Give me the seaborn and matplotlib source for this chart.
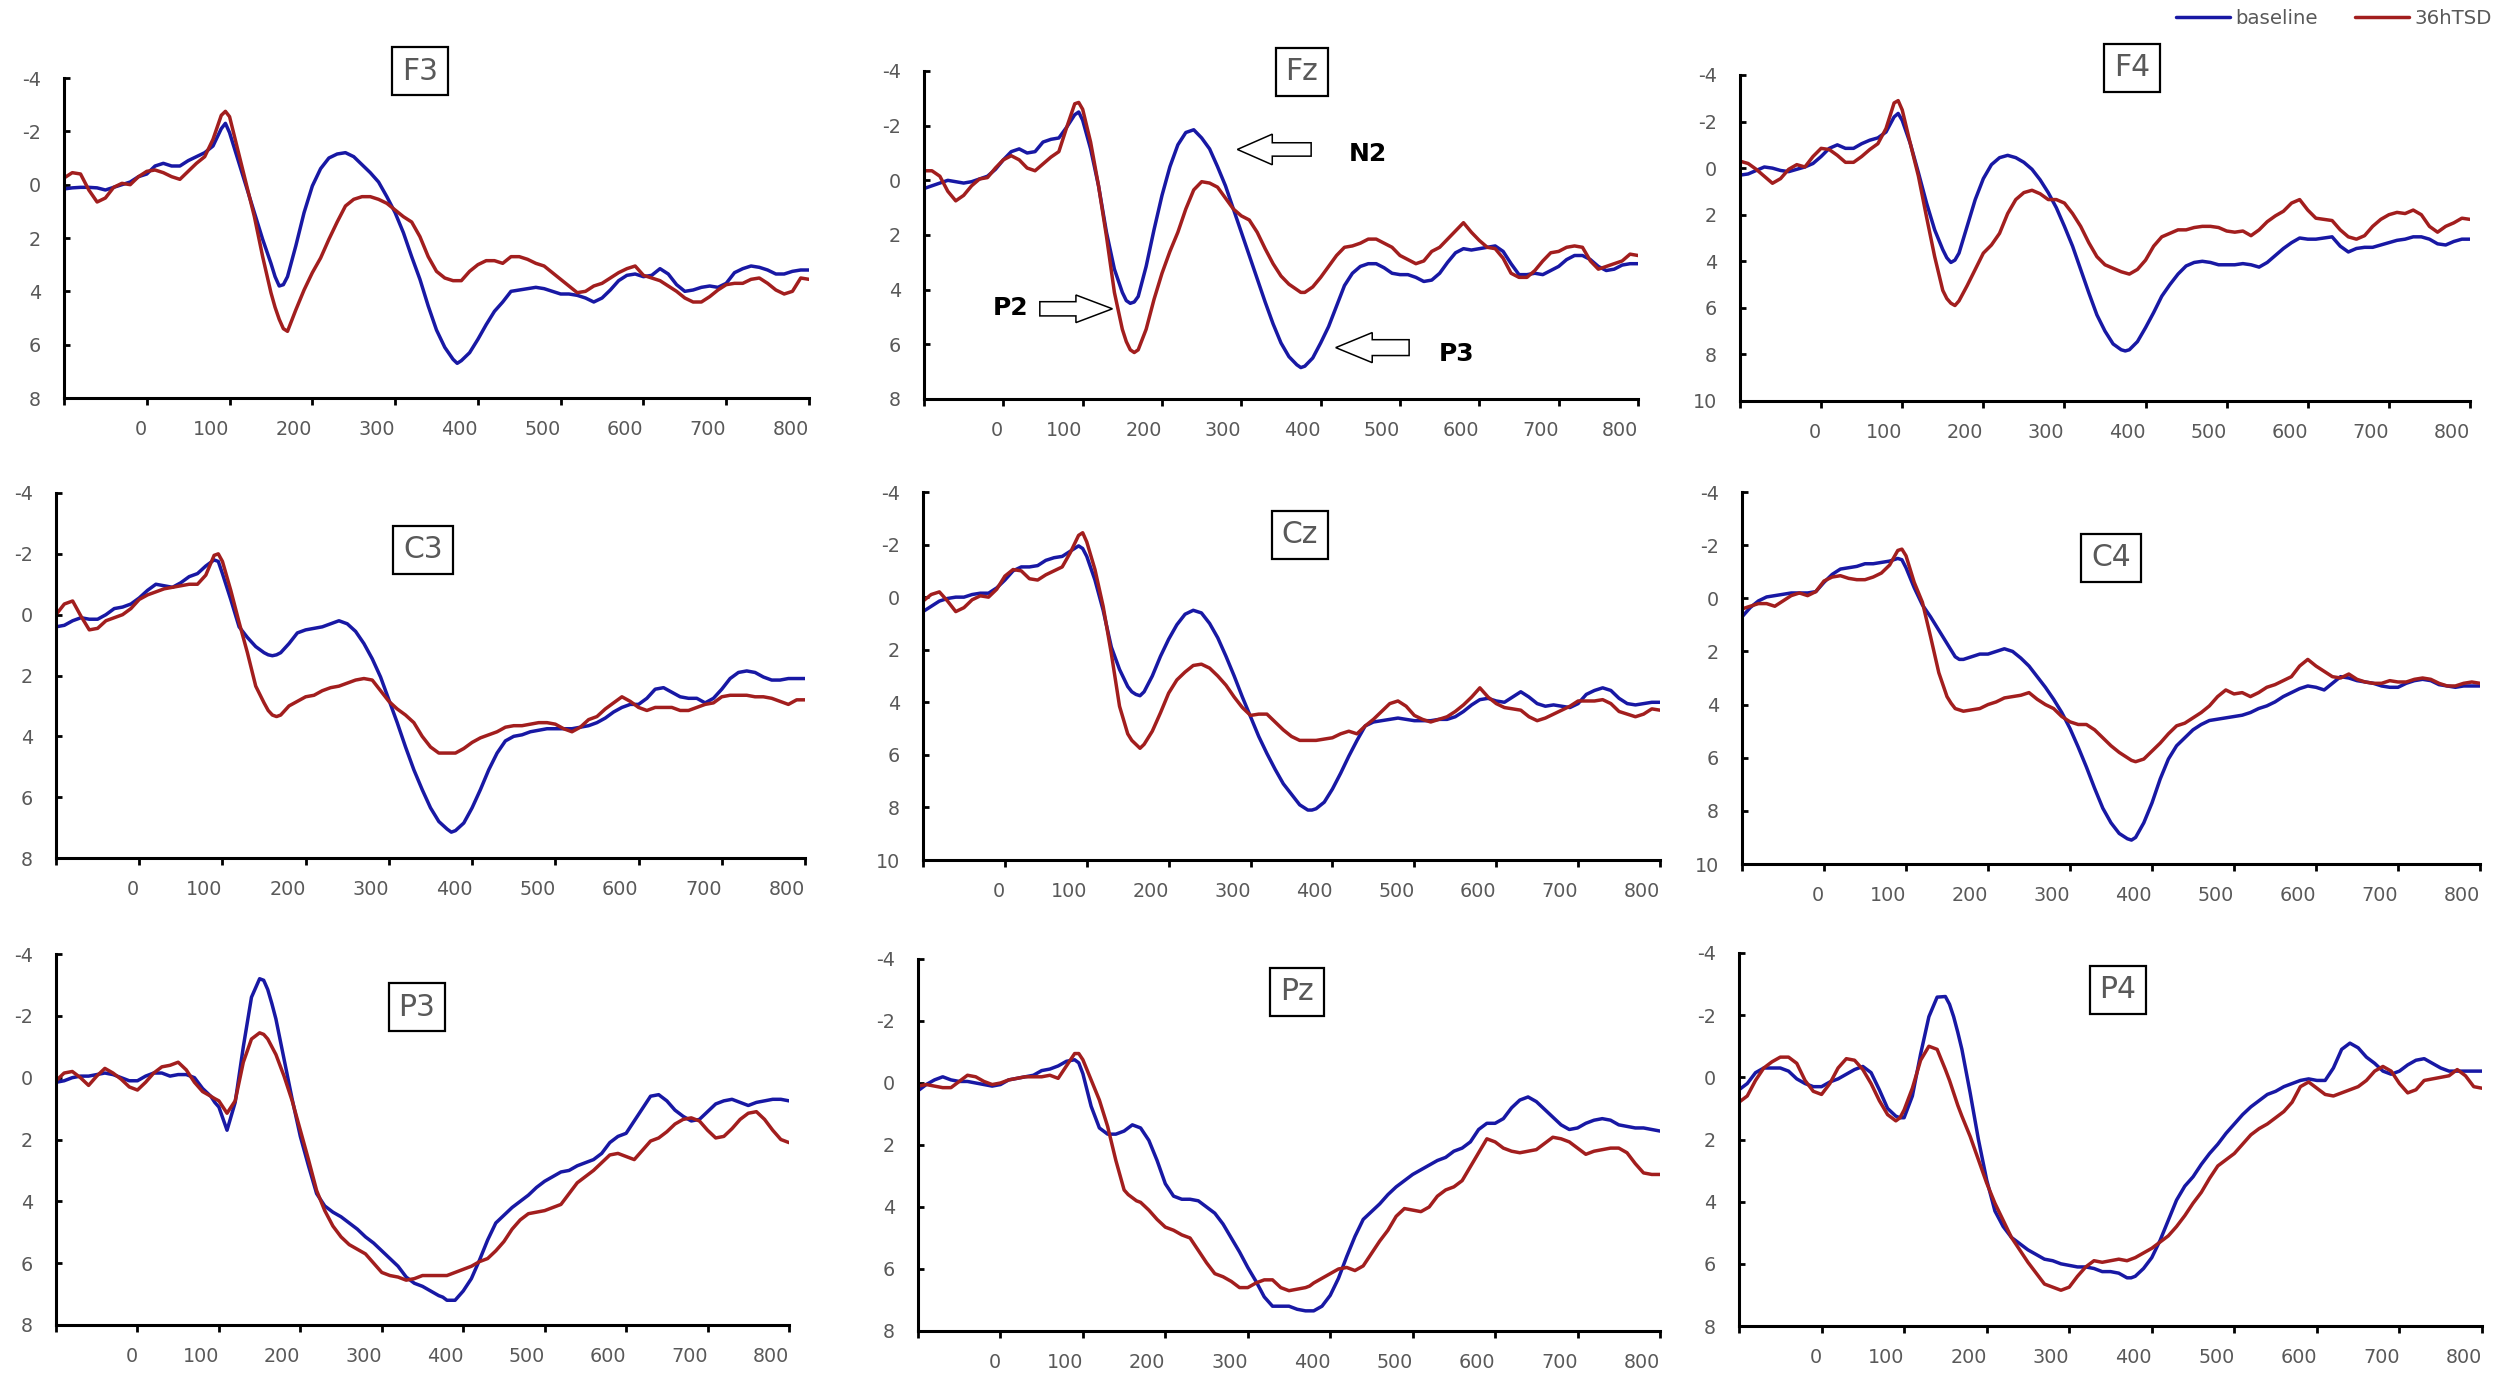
import matplotlib
matplotlib.use("Agg")
import matplotlib.pyplot as plt
import seaborn as sns
import pandas as pd
from matplotlib.patches import FancyArrow

# ---------------- data (ERP amplitude, µV; time in ms) ----------------
TIME = sorted(list(range(-100, 801, 10)) + [95, 155, 165, 375])

F3_BASE = [0.16,0.12,0.1,0.1,0.12,0.2,0.1,0.0,-0.1,-0.3,-0.4,-0.7,-0.8,-0.7,-0.7,-0.9,-1.05,-1.2,-1.45,-2.1,
           -2.3,
           -1.95,-0.95,0.05,1.05,2.05,2.95,
           3.45,3.8,3.75,
           3.45,2.3,1.05,0.05,-0.6,-1.0,-1.15,-1.2,-1.05,-0.75,-0.45,-0.1,0.45,1.05,1.8,2.7,3.55,4.55,5.45,6.1,6.55,
           6.7,
           6.6,6.3,5.8,5.25,4.75,4.4,4.0,3.95,3.9,3.85,3.9,4.0,4.1,4.1,4.15,4.25,4.4,4.25,3.95,3.6,3.4,3.35,3.45,3.4,
           3.15,3.35,3.75,4.0,3.95,3.85,3.8,3.85,3.7,3.3,3.15,3.05,3.1,3.2,3.35,3.35,3.25,3.2,3.2]
F3_TSD = [-0.25,-0.45,-0.4,0.2,0.65,0.5,0.1,-0.05,0.0,-0.3,-0.5,-0.55,-0.45,-0.3,-0.2,-0.5,-0.8,-1.05,-1.7,-2.6,
          -2.75,
          -2.55,-1.3,-0.05,1.2,2.7,4.05,
          4.6,5.05,5.4,
          5.5,4.7,3.95,3.3,2.75,2.05,1.4,0.8,0.55,0.45,0.45,0.55,0.7,0.95,1.2,1.4,1.95,2.7,3.25,3.5,3.6,
          3.6,
          3.6,3.25,3.0,2.85,2.85,2.95,2.7,2.7,2.8,2.95,3.05,3.3,3.55,3.8,4.05,4.0,3.8,3.7,3.5,3.3,3.15,3.05,3.4,3.5,
          3.6,3.8,4.0,4.25,4.4,4.4,4.2,3.95,3.75,3.7,3.7,3.55,3.5,3.7,3.95,4.1,4.0,3.5,3.55]

FZ_BASE = [0.3,0.2,0.1,0.0,0.05,0.1,0.05,-0.05,-0.15,-0.4,-0.75,-1.05,-1.15,-1.0,-1.05,-1.4,-1.5,-1.55,-1.95,-2.4,
           -2.5,
           -2.2,-1.15,0.2,1.9,3.25,4.1,
           4.4,4.5,4.45,
           4.25,3.15,1.8,0.55,-0.5,-1.3,-1.75,-1.85,-1.55,-1.15,-0.5,0.2,1.05,1.9,2.75,3.6,4.45,5.25,5.95,6.45,6.75,
           6.85,
           6.8,6.5,5.95,5.35,4.6,3.85,3.4,3.15,3.05,3.05,3.2,3.4,3.45,3.45,3.55,3.7,3.65,3.4,3.0,2.65,
           2.5,2.55,2.5,2.45,2.4,2.6,3.05,3.45,3.45,3.4,3.45,3.3,3.15,2.9,2.75,2.75,2.9,3.15,3.3,3.25,3.1,3.05,3.05]
FZ_TSD = [-0.35,-0.35,-0.15,0.4,0.75,0.55,0.2,-0.05,-0.1,-0.45,-0.75,-0.9,-0.75,-0.45,-0.35,-0.6,-0.85,-1.05,-1.95,-2.8,
          -2.85,
          -2.6,-1.4,0.2,2.05,4.1,5.45,
          5.9,6.2,6.3,
          6.2,5.45,4.35,3.4,2.6,1.9,1.05,0.35,0.05,0.1,0.25,0.65,1.05,1.3,1.45,1.9,2.5,3.05,3.5,3.8,4.0,
          4.1,
          4.1,3.9,3.55,3.15,2.75,2.45,2.4,2.3,2.15,2.15,2.3,2.45,2.75,2.9,3.05,2.95,2.6,2.45,2.15,1.85,
          1.55,1.9,2.2,2.45,2.5,2.85,3.4,3.55,3.55,3.3,2.95,2.65,2.6,2.45,2.4,2.45,2.95,3.25,3.15,3.05,2.95,2.7,2.75]

F4_BASE = [0.3,0.25,0.1,-0.05,0.0,0.1,0.15,0.05,-0.05,-0.2,-0.5,-0.85,-1.0,-0.85,-0.85,-1.05,-1.2,-1.3,-1.55,-2.2,
           -2.35,
           -2.05,-1.05,0.2,1.5,2.65,3.5,
           3.85,4.05,3.95,
           3.65,2.5,1.35,0.45,-0.15,-0.45,-0.55,-0.45,-0.25,0.05,0.5,1.05,1.7,2.5,3.35,4.35,5.35,6.3,7.0,7.55,7.8,
           7.85,
           7.8,7.45,6.85,6.2,5.5,5.0,4.55,4.2,4.05,4.0,4.05,4.15,4.15,4.15,4.1,4.15,4.25,4.05,3.75,3.45,
           3.2,3.0,3.05,3.05,3.0,2.95,3.35,3.6,3.45,3.4,3.4,3.3,3.2,3.1,3.05,2.95,2.95,3.05,3.25,3.3,3.15,3.05,3.05]
F4_TSD = [-0.3,-0.2,0.05,0.35,0.65,0.45,0.05,-0.15,-0.05,-0.5,-0.85,-0.8,-0.55,-0.25,-0.25,-0.5,-0.8,-1.05,-1.7,-2.8,
          -2.9,
          -2.5,-1.05,0.35,2.1,3.8,5.25,
          5.6,5.8,5.9,
          5.7,5.05,4.35,3.65,3.3,2.8,1.95,1.35,1.05,0.95,1.1,1.35,1.35,1.5,1.95,2.5,3.2,3.8,4.15,4.3,4.45,
          4.5,
          4.55,4.35,3.95,3.35,2.95,2.8,2.65,2.65,2.55,2.5,2.5,2.55,2.7,2.75,2.7,2.9,2.65,2.3,2.05,1.85,
          1.5,1.35,1.8,2.15,2.2,2.25,2.65,2.95,3.05,2.9,2.5,2.2,2.0,1.9,1.95,1.8,2.0,2.5,2.75,2.5,2.35,2.15,2.2]

C3_BASE = [0.4,0.35,0.2,0.1,0.15,0.15,0.0,-0.2,-0.25,-0.35,-0.55,-0.8,-1.0,-0.95,-0.9,-1.05,-1.25,-1.35,-1.6,-1.8,
           -1.75,
           -1.35,-0.5,0.4,0.75,1.05,1.25,
           1.32,1.35,1.32,
           1.25,0.95,0.6,0.5,0.45,0.4,0.3,0.2,0.3,0.55,0.95,1.45,2.05,2.8,3.55,4.35,5.1,5.75,6.35,6.8,7.05,
           7.15,
           7.1,6.85,6.35,5.75,5.1,4.55,4.15,4.0,3.95,3.85,3.8,3.75,3.75,3.75,3.75,3.7,3.65,3.55,3.4,3.2,
           3.05,2.95,2.95,2.75,2.45,2.4,2.55,2.7,2.75,2.75,2.9,2.75,2.45,2.1,1.9,1.85,1.9,2.05,2.15,2.15,2.1,2.1,2.1]
C3_TSD = [0.0,-0.35,-0.45,0.05,0.5,0.45,0.2,0.1,0.0,-0.2,-0.5,-0.65,-0.75,-0.85,-0.9,-0.95,-1.0,-1.0,-1.3,-1.95,
          -2.0,
          -1.75,-0.8,0.25,1.25,2.35,2.9,
          3.15,3.3,3.35,
          3.3,3.0,2.85,2.7,2.65,2.5,2.4,2.35,2.25,2.15,2.1,2.15,2.5,2.85,3.1,3.3,3.55,4.0,4.35,4.55,4.55,
          4.55,
          4.55,4.4,4.2,4.05,3.95,3.85,3.7,3.65,3.65,3.6,3.55,3.55,3.6,3.75,3.85,3.7,3.45,3.35,3.1,2.9,
          2.7,2.85,3.05,3.15,3.05,3.05,3.05,3.15,3.15,3.05,2.95,2.9,2.7,2.65,2.65,2.65,2.7,2.7,2.75,2.85,2.95,2.8,2.8]

CZ_BASE = [0.55,0.35,0.15,0.05,0.0,0.0,-0.1,-0.15,-0.15,-0.35,-0.65,-1.0,-1.15,-1.15,-1.2,-1.4,-1.5,-1.55,-1.75,-1.95,
           -1.85,
           -1.55,-0.65,0.5,1.9,2.75,3.4,
           3.6,3.7,3.75,
           3.6,3.0,2.25,1.6,1.05,0.65,0.5,0.6,1.0,1.55,2.25,3.0,3.8,4.55,5.3,5.95,6.55,7.1,7.5,7.9,8.1,
           8.1,
           8.05,7.8,7.3,6.7,6.05,5.45,4.9,4.75,4.7,4.65,4.6,4.65,4.7,4.7,4.7,4.65,4.65,4.55,4.35,4.1,
           3.9,3.85,3.95,4.0,3.8,3.6,3.8,4.05,4.15,4.1,4.15,4.2,4.05,3.7,3.55,3.45,3.55,3.85,4.05,4.1,4.05,4.0,4.0]
CZ_TSD = [0.15,-0.1,-0.2,0.15,0.55,0.4,0.1,-0.05,0.0,-0.3,-0.8,-1.05,-1.0,-0.7,-0.65,-0.85,-1.0,-1.15,-1.7,-2.35,
          -2.45,
          -2.1,-1.05,0.35,2.15,4.15,5.2,
          5.45,5.6,5.75,
          5.6,5.1,4.4,3.65,3.15,2.85,2.6,2.55,2.7,3.0,3.35,3.8,4.2,4.5,4.45,4.45,4.75,5.05,5.3,5.45,5.45,
          5.45,
          5.45,5.4,5.35,5.2,5.1,5.2,4.9,4.65,4.35,4.05,3.95,4.15,4.5,4.65,4.75,4.65,4.55,4.35,4.1,3.8,
          3.45,3.8,4.05,4.2,4.25,4.3,4.55,4.7,4.6,4.45,4.3,4.15,3.95,3.95,3.95,3.9,4.05,4.35,4.45,4.55,4.45,4.25,4.3]

C4_BASE = [0.7,0.35,0.1,-0.05,-0.1,-0.15,-0.2,-0.2,-0.2,-0.25,-0.6,-0.9,-1.1,-1.15,-1.2,-1.3,-1.3,-1.35,-1.4,-1.5,
           -1.45,
           -1.15,-0.4,0.25,0.7,1.2,1.7,
           1.95,2.2,2.3,
           2.3,2.2,2.1,2.1,2.0,1.9,2.0,2.25,2.55,2.95,3.35,3.8,4.3,4.9,5.6,6.35,7.15,7.9,8.45,8.85,9.05,
           9.1,
           9.0,8.45,7.7,6.8,6.05,5.55,5.25,4.95,4.75,4.6,4.55,4.5,4.45,4.4,4.3,4.15,4.05,3.9,3.7,3.55,
           3.4,3.3,3.35,3.45,3.2,2.95,3.0,3.1,3.15,3.2,3.3,3.35,3.35,3.2,3.1,3.05,3.1,3.25,3.3,3.35,3.3,3.3,3.3]
C4_TSD = [0.4,0.3,0.2,0.2,0.3,0.1,-0.1,-0.2,-0.1,-0.25,-0.65,-0.8,-0.85,-0.75,-0.7,-0.7,-0.8,-0.95,-1.25,-1.8,
          -1.85,
          -1.6,-0.6,0.15,1.45,2.8,3.7,
          3.95,4.15,4.2,
          4.25,4.2,4.15,4.0,3.9,3.75,3.7,3.65,3.55,3.8,4.0,4.15,4.45,4.65,4.75,4.75,4.95,5.25,5.55,5.8,6.0,
          6.1,
          6.15,6.05,5.75,5.45,5.1,4.8,4.7,4.5,4.3,4.05,3.7,3.45,3.6,3.55,3.7,3.55,3.35,3.25,3.1,2.95,
          2.55,2.3,2.55,2.75,2.95,3.0,2.85,3.05,3.15,3.2,3.2,3.1,3.15,3.15,3.05,3.0,3.05,3.2,3.3,3.3,3.2,3.15,3.2]

P3_BASE = [0.15,0.1,0.0,-0.05,-0.05,-0.1,-0.15,-0.1,0.0,0.1,0.1,-0.05,-0.15,-0.15,-0.05,-0.1,-0.1,0.0,0.35,0.6,
           0.8,
           0.95,1.7,0.8,-1.0,-2.6,-3.2,
           -3.15,-2.85,-2.4,
           -1.9,-0.6,0.7,1.9,2.85,3.75,4.15,4.35,4.5,4.7,4.9,5.15,5.35,5.6,5.85,6.1,6.45,6.65,6.75,6.9,7.05,
           7.1,
           7.2,7.2,6.9,6.5,5.9,5.25,4.7,4.45,4.2,4.0,3.8,3.55,3.35,3.2,3.05,3.0,2.85,2.75,2.65,2.45,
           2.1,1.9,1.8,1.4,1.0,0.6,0.55,0.75,1.05,1.25,1.4,1.35,1.1,0.85,0.75,0.7,0.8,0.9,0.8,0.75,0.7,0.7,0.75]
P3_TSD = [0.1,-0.15,-0.2,0.0,0.25,-0.05,-0.3,-0.15,0.05,0.3,0.4,0.15,-0.15,-0.35,-0.4,-0.5,-0.25,0.15,0.45,0.6,
          0.68,
          0.75,1.15,0.75,-0.5,-1.25,-1.45,
          -1.4,-1.25,-1.0,
          -0.75,-0.05,0.75,1.7,2.65,3.65,4.3,4.8,5.15,5.4,5.55,5.7,6.0,6.3,6.4,6.45,6.55,6.5,6.4,6.4,6.4,
          6.4,
          6.4,6.3,6.2,6.1,5.95,5.85,5.6,5.3,4.9,4.6,4.4,4.35,4.3,4.2,4.1,3.75,3.4,3.2,3.0,2.75,
          2.5,2.45,2.55,2.65,2.35,2.05,1.95,1.75,1.5,1.35,1.3,1.4,1.7,1.95,1.9,1.65,1.35,1.15,1.1,1.35,1.7,2.0,2.1]

PZ_BASE = [0.25,0.05,-0.1,-0.2,-0.1,-0.05,-0.05,0.0,0.05,0.1,0.05,-0.1,-0.15,-0.2,-0.25,-0.4,-0.45,-0.55,-0.7,-0.75,
           -0.65,
           -0.3,0.75,1.45,1.65,1.65,1.55,
           1.45,1.35,1.4,
           1.45,1.85,2.5,3.25,3.65,3.75,3.75,3.8,4.0,4.2,4.55,5.0,5.45,5.95,6.4,6.9,7.2,7.2,7.2,7.3,7.35,
           7.35,
           7.35,7.2,6.85,6.3,5.6,4.95,4.4,4.15,3.9,3.6,3.35,3.15,2.95,2.8,2.65,2.5,2.4,2.2,2.1,1.9,
           1.5,1.3,1.3,1.15,0.8,0.55,0.45,0.6,0.85,1.1,1.35,1.5,1.45,1.3,1.2,1.15,1.2,1.35,1.4,1.45,1.45,1.5,1.55]
PZ_TSD = [0.1,0.05,0.1,0.15,0.15,-0.05,-0.25,-0.2,-0.05,0.05,0.0,-0.1,-0.15,-0.2,-0.2,-0.2,-0.25,-0.15,-0.55,-0.95,
          -0.95,
          -0.75,-0.1,0.55,1.4,2.5,3.45,
          3.6,3.7,3.8,
          3.85,4.1,4.4,4.65,4.75,4.9,5.0,5.4,5.8,6.15,6.25,6.4,6.6,6.6,6.45,6.35,6.35,6.6,6.7,6.65,6.6,
          6.55,
          6.45,6.3,6.15,6.0,5.95,6.05,5.9,5.5,5.1,4.75,4.3,4.05,4.1,4.15,4.0,3.65,3.45,3.35,3.15,2.7,
          2.25,1.8,1.9,2.1,2.2,2.25,2.2,2.15,1.95,1.75,1.8,1.9,2.1,2.3,2.2,2.15,2.1,2.1,2.25,2.6,2.9,2.95,2.95]

P4_BASE = [0.4,0.2,-0.15,-0.3,-0.3,-0.3,-0.2,0.05,0.2,0.3,0.3,0.15,0.05,-0.1,-0.25,-0.35,-0.15,0.4,1.0,1.25,
           1.3,
           1.3,0.6,-0.75,-1.95,-2.58,-2.6,
           -2.35,-1.95,-1.45,
           -0.9,0.5,2.0,3.3,4.3,4.8,5.15,5.35,5.55,5.7,5.85,5.9,6.0,6.05,6.1,6.1,6.15,6.25,6.25,6.3,6.45,
           6.45,
           6.4,6.15,5.8,5.25,4.6,3.95,3.5,3.2,2.8,2.45,2.15,1.8,1.5,1.2,0.95,0.75,0.55,0.45,0.3,0.2,
           0.1,0.05,0.1,0.1,-0.3,-0.9,-1.1,-0.95,-0.65,-0.45,-0.2,-0.1,-0.2,-0.4,-0.55,-0.6,-0.45,-0.3,-0.2,-0.2,-0.2,-0.2,-0.2]
P4_TSD = [0.8,0.6,0.1,-0.3,-0.5,-0.65,-0.65,-0.45,0.1,0.45,0.55,0.2,-0.3,-0.6,-0.55,-0.25,0.2,0.75,1.2,1.4,
          1.3,
          1.05,0.35,-0.55,-1.0,-0.9,-0.25,
          0.1,0.5,0.9,
          1.25,1.9,2.65,3.4,4.05,4.6,5.15,5.55,5.95,6.3,6.65,6.75,6.85,6.75,6.4,6.1,5.9,5.95,5.9,5.85,5.9,
          5.85,
          5.8,5.65,5.5,5.3,5.1,4.8,4.45,4.05,3.7,3.25,2.85,2.65,2.45,2.15,1.85,1.65,1.5,1.3,1.1,0.8,
          0.3,0.15,0.35,0.55,0.6,0.5,0.4,0.3,0.1,-0.2,-0.35,-0.2,0.2,0.5,0.4,0.1,0.05,0.0,-0.05,-0.25,-0.05,0.3,0.35]

ELECTRODES = ["F3", "Fz", "F4", "C3", "Cz", "C4", "P3", "Pz", "P4"]
BASELINES = [F3_BASE, FZ_BASE, F4_BASE, C3_BASE, CZ_BASE, C4_BASE, P3_BASE, PZ_BASE, P4_BASE]
TSDS = [F3_TSD, FZ_TSD, F4_TSD, C3_TSD, CZ_TSD, C4_TSD, P3_TSD, PZ_TSD, P4_TSD]
Y_BOTTOM = [8, 8, 10, 8, 10, 10, 8, 8, 8]
X_TICKS = list(range(-100, 801, 100))
X_LABELS = [""] + [str(v) for v in range(0, 801, 100)]
CONDITIONS = ["baseline", "36hTSD"]

# ---------------- layout / style ----------------
W, H = 2500, 1380
BOXES = [(64, 809, 78, 398), (924, 1638, 71, 399), (1740, 2470, 75, 401),
         (56, 805, 493, 858), (923, 1660, 492, 860), (1742, 2480, 492, 864),
         (56, 789, 954, 1325), (918, 1660, 959, 1331), (1739, 2482, 953, 1326)]
TITLE_POS = [(420, 71), (1302, 72), (2132, 68), (423, 550), (1300, 535), (2111, 558),
             (417, 1007), (1297, 992), (2118, 990)]
BLUE = "#1818A4"
RED = "#A21E1E"
GRAY = "#595959"

sns.set_style("ticks")
plt.rcParams["font.family"] = ["DejaVu Sans"]
plt.rcParams["axes.unicode_minus"] = False

fig = plt.figure(figsize=(25, 13.8), dpi=100)
axes = []
for i, name in enumerate(ELECTRODES):
    L, R, T, B = BOXES[i]
    ax = fig.add_axes([L / W, 1 - B / H, (R - L) / W, (B - T) / H])
    axes.append(ax)
    df = pd.DataFrame({
        "time": TIME + TIME,
        "amp": BASELINES[i] + TSDS[i],
        "cond": [CONDITIONS[0]] * len(TIME) + [CONDITIONS[1]] * len(TIME),
    })
    sns.lineplot(data=df, x="time", y="amp", hue="cond", hue_order=CONDITIONS,
                 palette={"baseline": BLUE, "36hTSD": RED}, linewidth=2.5,
                 estimator=None, legend=False, ax=ax)
    ax.set_xlim(-100, 800)
    ax.set_ylim(Y_BOTTOM[i], -4)
    ax.set_xticks(X_TICKS)
    ax.set_xticklabels(X_LABELS, ha="right")
    yt = list(range(-4, Y_BOTTOM[i] + 1, 2))
    ax.set_yticks(yt)
    ax.set_yticklabels([str(v) for v in yt])
    ax.set_xlabel("")
    ax.set_ylabel("")
    sns.despine(ax=ax)
    for s in ("left", "bottom"):
        ax.spines[s].set_linewidth(2.2)
        ax.spines[s].set_color("black")
    ax.tick_params(axis="x", direction="out", length=5, width=2, pad=10.5,
                   labelsize=13.8, labelcolor=GRAY, color="black")
    ax.tick_params(axis="y", direction="in", length=4, width=2, pad=16.5,
                   labelsize=13.8, labelcolor=GRAY, color="black")
    ax.patch.set_alpha(0)
    cx, cy = TITLE_POS[i]
    fig.text(cx / W, 1 - cy / H, name, ha="center", va="center", fontsize=21.5,
             color=GRAY, bbox=dict(boxstyle="square,pad=0.33", fc="white", ec="black", lw=1.6))

# annotations on Fz
axz = axes[1]
arrow_kw = dict(length_includes_head=True, fc="white", ec="black", lw=1.1, zorder=5)
axz.add_patch(FancyArrow(388, -1.13, 295 - 388, 0, width=0.49, head_width=1.12, head_length=44, **arrow_kw))
axz.add_patch(FancyArrow(46, 4.7, 137.5 - 46, 0, width=0.52, head_width=1.01, head_length=46, **arrow_kw))
axz.add_patch(FancyArrow(511.5, 6.12, 419 - 511.5, 0, width=0.58, head_width=1.1, head_length=46, **arrow_kw))
for label, tx, ty in [("N2", 459, -0.95), ("P2", 9, 4.66), ("P3", 571, 6.34)]:
    axz.text(tx, ty, label, ha="center", va="center", fontsize=18, fontweight="bold", color="black")

# legend
handles = axes[0].get_lines()[:2]
fig.legend(handles, CONDITIONS, loc="center right", bbox_to_anchor=(2492 / W, 1 - 18 / H),
           ncol=2, frameon=False, fontsize=14.2, labelcolor=GRAY, handlelength=2.7,
           handletextpad=0.3, columnspacing=1.9, borderpad=0, borderaxespad=0)

fig.savefig("out.png", dpi=100, facecolor="white")
